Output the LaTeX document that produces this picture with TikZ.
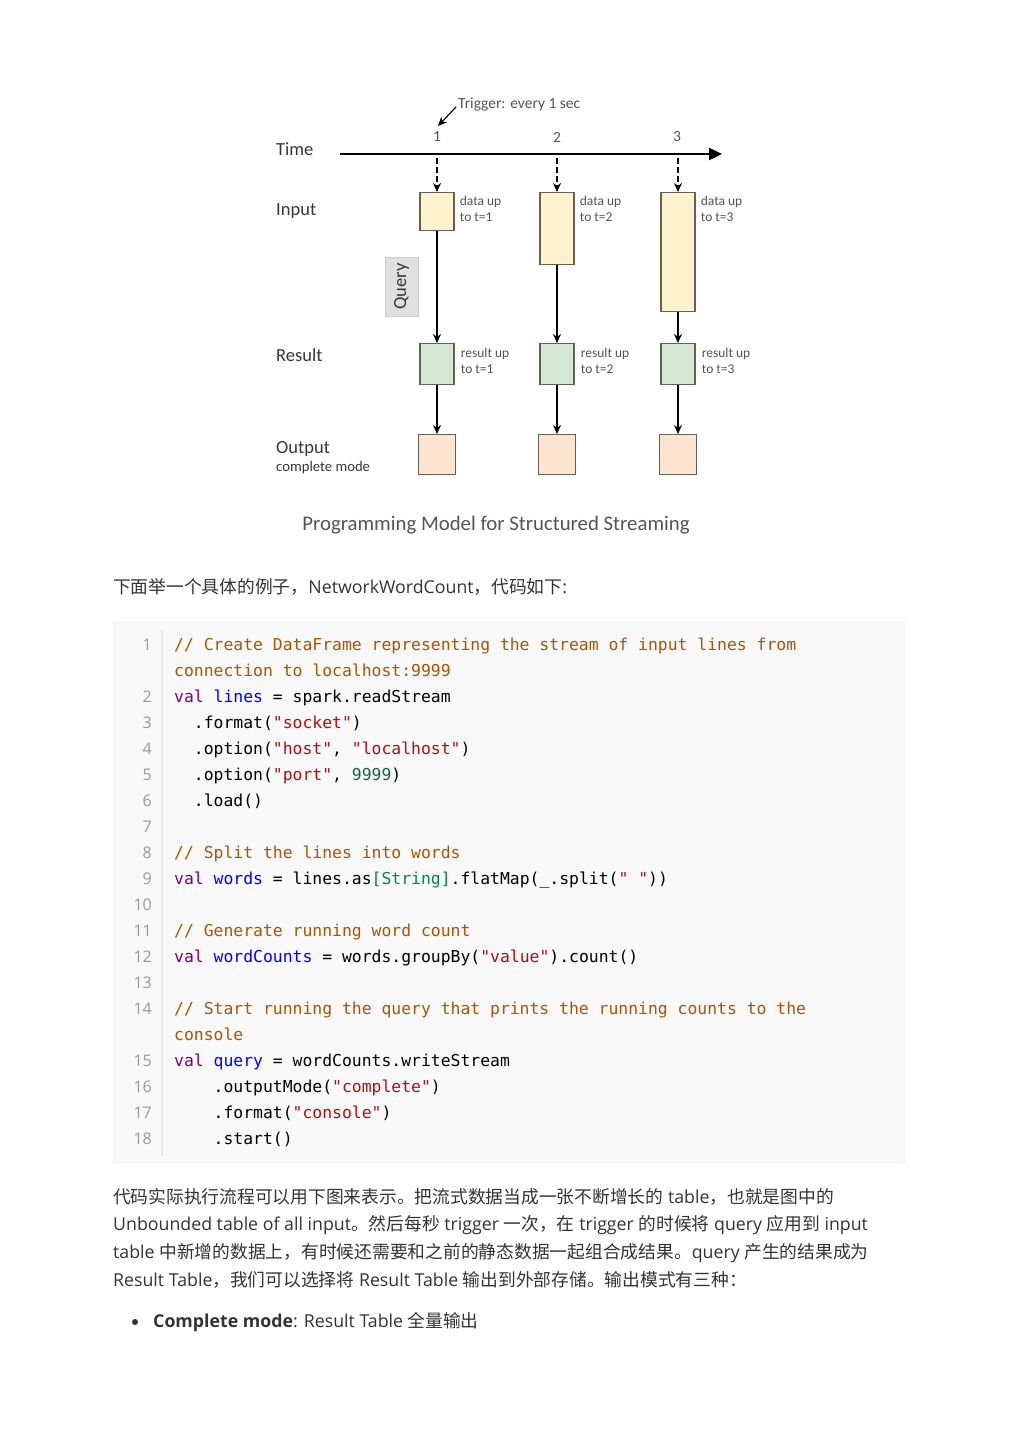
\documentclass[tikz,border=0pt]{standalone}
\usepackage{fontspec}
\setmainfont{Open Sans}
\setmonofont{DejaVu Sans Mono}
\newfontfamily\cjk{Noto Sans CJK SC}
\newfontfamily\carl{Carlito}
\usetikzlibrary{positioning,arrows.meta}
\usepackage{xcolor}
\definecolor{inputc}{RGB}{255,242,204}
\definecolor{resultc}{RGB}{213,232,212}
\definecolor{outputc}{RGB}{251,228,208}
\definecolor{boxline}{RGB}{100,96,84}
\definecolor{queryc}{RGB}{224,224,224}
\definecolor{labelc}{RGB}{55,55,55}
\definecolor{notec}{RGB}{85,85,85}
\definecolor{bodyc}{RGB}{51,51,51}
\definecolor{codebg}{RGB}{248,248,248}
\definecolor{codeframe}{RGB}{231,231,231}
\definecolor{gutter}{RGB}{153,153,153}
\definecolor{cmtc}{RGB}{170,85,0}
\definecolor{kwc}{RGB}{119,0,136}
\definecolor{defc}{RGB}{0,0,255}
\definecolor{strc}{RGB}{170,17,17}
\definecolor{numc}{RGB}{17,102,68}
\definecolor{typec}{RGB}{0,136,85}

% code colouring
\newcommand{\scCmt}[1]{\textcolor{cmtc}{#1}}
\newcommand{\scKw}[1]{\textcolor{kwc}{#1}}
\newcommand{\scDef}[1]{\textcolor{defc}{#1}}
\newcommand{\scStr}[1]{\textcolor{strc}{#1}}
\newcommand{\scNum}[1]{\textcolor{numc}{#1}}
\newcommand{\scTyp}[1]{\textcolor{typec}{#1}}
% one row of the listing: row, line number, text
\newcommand{\codeline}[3]{%
  \node[lnum] (num#1) at (152,{650+26*#1}) {#2};
  \node[codetxt] (code#1) at (174,{650+26*#1}) {#3};}

\begin{document}
\begin{tikzpicture}[x=1pt, y=-1pt,
    inbox/.style={draw=boxline, line width=1.3pt, fill=inputc, minimum width=34pt, inner sep=0pt, anchor=north},
    resbox/.style={draw=boxline, line width=1.3pt, fill=resultc, minimum width=34pt, minimum height=41pt, inner sep=0pt, anchor=north},
    outbox/.style={draw=boxline, line width=1.3pt, fill=outputc, minimum width=37pt, minimum height=40pt, inner sep=0pt, anchor=north},
    qbox/.style={draw=gray!40, fill=queryc, rotate=90, minimum width=59pt, minimum height=33pt, inner sep=0pt, font=\carl\fontsize{18.5}{20}\selectfont, text=labelc},
    rowlabel/.style={anchor=west, inner sep=0pt, font=\carl\fontsize{18.5}{22}\selectfont, text=labelc},
    note/.style={anchor=north west, inner sep=0pt, align=left, font=\carl\fontsize{13.5}{16}\selectfont, text=notec},
    tick/.style={inner sep=0pt, font=\carl\fontsize{15.5}{18}\selectfont, text=notec},
    arrow/.style={-{Stealth[length=9pt, width=8pt]}, line width=1.1pt},
    dasharrow/.style={-{Stealth[length=9pt, width=8pt]}, line width=1.1pt, dash pattern=on 6pt off 3pt},
    timeline/.style={-{Triangle[length=13pt, width=12pt]}, line width=2.4pt},
    body/.style={anchor=west, inner sep=0pt, font=\fontsize{17.75}{20}\selectfont, text=bodyc},
    lnum/.style={anchor=base east, inner sep=0pt, font=\fontsize{16}{20}\selectfont, text=gutter},
    codetxt/.style={anchor=base west, inner sep=0pt, font=\ttfamily\fontsize{16.4}{20}\selectfont, text=black}
]
    \useasboundingbox[fill=white] (0,0) rectangle (1019,1440);

    % Row labels
    \node[rowlabel] (ltime) at (276,149) {Time};
    \node[rowlabel] (linput) at (276,211) {Input};
    \node[rowlabel] (lresult) at (276,355) {Result};
    \node[rowlabel] (loutput) at (276,449) {Output};
    \node[rowlabel, font=\carl\fontsize{14.7}{16}\selectfont] (lmode) at (276,468) {complete mode};

    % Time axis
    \coordinate (tstart) at (340,154);
    \coordinate (tend) at (722,154);
    \draw[timeline] (tstart) -- (tend);
    \coordinate (t1) at (437,154);
    \coordinate (t2) at (557,154);
    \coordinate (t3) at (678,154);
    \node[tick] (k1) at (437,137) {1};
    \node[tick] (k2) at (557,137) {2};
    \node[tick] (k3) at (677,137) {3};

    % Trigger
    \node[tick, anchor=west] (trig) at (458,104) {Trigger: every 1 sec};
    \coordinate (trighit) at (438,126);
    \draw[arrow] ([shift={(-2pt,-3pt)}]trig.west) -- (trighit);

    % Input
    \node[inbox, minimum height=38pt] (in1) at (437,192) {};
    \node[inbox, minimum height=72pt] (in2) at (557,192) {};
    \node[inbox, minimum height=119pt] (in3) at (678,192) {};
    \node[note] (d1) at ([shift={(5pt,-4pt)}]in1.north east) {data up\\to t=1};
    \node[note] (d2) at ([shift={(5pt,-4pt)}]in2.north east) {data up\\to t=2};
    \node[note] (d3) at ([shift={(5pt,-4pt)}]in3.north east) {data up\\to t=3};

    % Query
    \node[qbox] (query) at (401.5,286.5) {Query};

    % Result
    \node[resbox] (r1) at (437,343) {};
    \node[resbox] (r2) at (557,343) {};
    \node[resbox] (r3) at (678,343) {};
    \node[note] (e1) at ([shift={(6pt,-5pt)}]r1.north east) {result up\\to t=1};
    \node[note] (e2) at ([shift={(6pt,-5pt)}]r2.north east) {result up\\to t=2};
    \node[note] (e3) at ([shift={(6pt,-5pt)}]r3.north east) {result up\\to t=3};

    % Output
    \node[outbox] (o1) at (437,434) {};
    \node[outbox] (o2) at (557,434) {};
    \node[outbox] (o3) at (678,434) {};

    % Arrows
    \draw[dasharrow, shorten <=4pt] (t1) -- (in1);
    \draw[dasharrow, shorten <=4pt] (t2) -- (in2);
    \draw[dasharrow, shorten <=4pt] (t3) -- (in3);
    \draw[arrow] (in1) -- (r1);
    \draw[arrow] (in2) -- (r2);
    \draw[arrow] (in3) -- (r3);
    \draw[arrow] (r1) -- (o1);
    \draw[arrow] (r2) -- (o2);
    \draw[arrow] (r3) -- (o3);

    % Caption
    \node[inner sep=0pt, font=\carl\fontsize{20.8}{24}\selectfont, text=notec] (cap) at (496,525) {Programming Model for Structured Streaming};

    % Text above the listing
    \node[body] (intro) at (113,587) {{\cjk 下面举一个具体的例子，}NetworkWordCount{\cjk ，代码如下}:};

    % Listing
    \draw[codeframe, fill=codebg, rounded corners=3pt] (113,622) rectangle (905,1163);
    \draw[codeframe, line width=1.2pt] (162,630) -- (162,1156);
    \codeline{0}{1}{\scCmt{// Create DataFrame representing the stream of input lines from}}
    \codeline{1}{}{\scCmt{connection to localhost:9999}}
    \codeline{2}{2}{\scKw{val} \scDef{lines} = spark.readStream}
    \codeline{3}{3}{\hphantom{00}.format(\scStr{"socket"})}
    \codeline{4}{4}{\hphantom{00}.option(\scStr{"host"}, \scStr{"localhost"})}
    \codeline{5}{5}{\hphantom{00}.option(\scStr{"port"}, \scNum{9999})}
    \codeline{6}{6}{\hphantom{00}.load()}
    \codeline{7}{7}{}
    \codeline{8}{8}{\scCmt{// Split the lines into words}}
    \codeline{9}{9}{\scKw{val} \scDef{words} = lines.as\scTyp{[String]}.flatMap(\_.split(\scStr{"~"}))}
    \codeline{10}{10}{}
    \codeline{11}{11}{\scCmt{// Generate running word count}}
    \codeline{12}{12}{\scKw{val} \scDef{wordCounts} = words.groupBy(\scStr{"value"}).count()}
    \codeline{13}{13}{}
    \codeline{14}{14}{\scCmt{// Start running the query that prints the running counts to the}}
    \codeline{15}{}{\scCmt{console}}
    \codeline{16}{15}{\scKw{val} \scDef{query} = wordCounts.writeStream}
    \codeline{17}{16}{\hphantom{0000}.outputMode(\scStr{"complete"})}
    \codeline{18}{17}{\hphantom{0000}.format(\scStr{"console"})}
    \codeline{19}{18}{\hphantom{0000}.start()}

    % Text below the listing
    \node[body] (p1) at (113,1197) {{\cjk 代码实际执行流程可以用下图来表示。把流式数据当成一张不断增长的} table{\cjk ，也就是图中的}};
    \node[body] (p2) at (113,1225) {Unbounded table of all input{\cjk 。然后每秒} trigger {\cjk 一次，在} trigger {\cjk 的时候将} query {\cjk 应用到} input};
    \node[body] (p3) at (113,1253) {table {\cjk 中新增的数据上，有时候还需要和之前的静态数据一起组合成结果。}query {\cjk 产生的结果成为}};
    \node[body] (p4) at (113,1280) {Result Table{\cjk ，我们可以选择将} Result Table {\cjk 输出到外部存储。输出模式有三种：}};

    % Bullet
    \node[circle, fill=bodyc, inner sep=0pt, minimum size=6pt] (bul) at (135,1322) {};
    \node[body] (item) at (153,1322) {\textbf{Complete mode}: Result Table {\cjk 全量输出}};
\end{tikzpicture}
\end{document}
